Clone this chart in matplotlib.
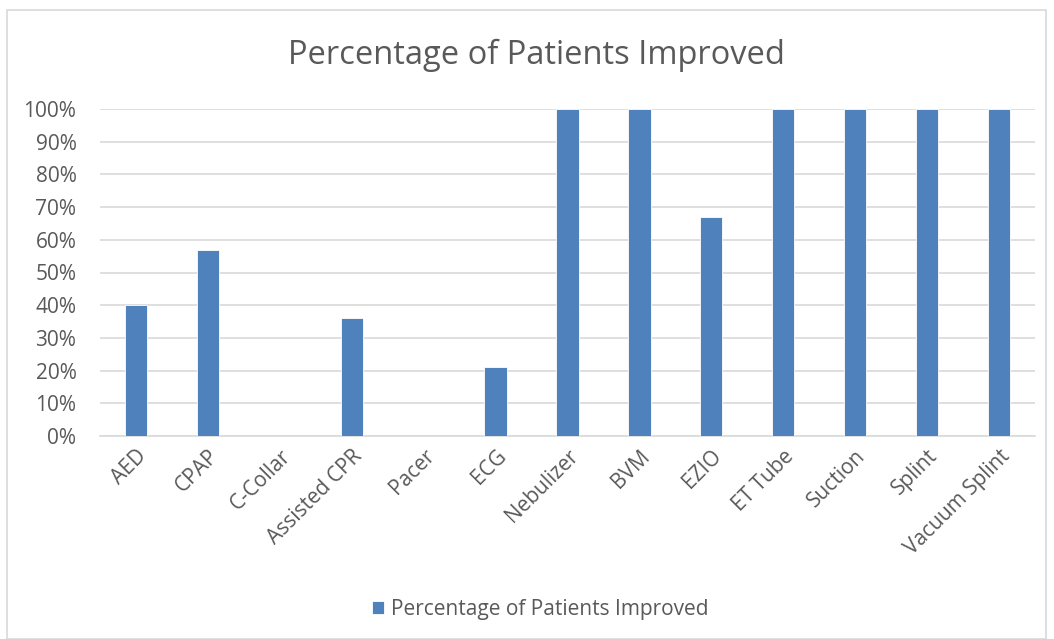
import matplotlib.pyplot as plt
from matplotlib.patches import Rectangle
from matplotlib.ticker import FuncFormatter

plt.rcParams["font.family"] = ["Open Sans", "DejaVu Sans"]

categories = ["AED", "CPAP", "C-Collar", "Assisted CPR", "Pacer", "ECG", "Nebulizer",
              "BVM", "EZIO", "ET Tube", "Suction", "Splint", "Vacuum Splint"]
improved_pct = [40, 57, 0, 36, 0, 21, 100, 100, 67, 100, 100, 100, 100]

BAR_COLOR = "#4F81BD"
TEXT_COLOR = "#595959"
GRID_COLOR = "#D9D9D9"

fig = plt.figure(figsize=(10.54, 6.39), dpi=100)
ax = fig.add_axes([100 / 1054, 1 - 436 / 639, 935 / 1054, 327 / 639])

x = range(len(categories))
ax.bar(x, improved_pct, width=0.31, color=BAR_COLOR, edgecolor="white",
       linewidth=0.6, zorder=3, label="Percentage of Patients Improved")

ax.set_xlim(-0.5, len(categories) - 0.5)
ax.set_ylim(0, 100)
ax.set_yticks(range(0, 101, 10))
ax.yaxis.set_major_formatter(FuncFormatter(lambda v, _: f"{v:.0f}%"))
ax.set_xticks(list(x))
ax.set_xticklabels(categories, rotation=45, ha="right", rotation_mode="anchor")

ax.grid(axis="y", color=GRID_COLOR, linewidth=1.2, zorder=0)
for side in ["top", "right", "left"]:
    ax.spines[side].set_visible(False)
ax.spines["bottom"].set_color(GRID_COLOR)
ax.spines["bottom"].set_linewidth(1.2)
ax.tick_params(axis="both", length=0, colors=TEXT_COLOR, labelsize=15)
ax.tick_params(axis="y", pad=17)
ax.tick_params(axis="x", pad=7)

fig.text(536 / 1054, 1 - 55 / 639, "Percentage of Patients Improved",
         ha="center", va="center", fontsize=23.5, color=TEXT_COLOR)

fig.legend(loc="center", bbox_to_anchor=(540 / 1054, 1 - 609 / 639), frameon=False,
           fontsize=15, labelcolor=TEXT_COLOR, handlelength=0.6, handleheight=0.6,
           handletextpad=0.3)

fig.patches.append(Rectangle((7 / 1054, 0), 1039 / 1054, 1 - 10 / 639,
                             transform=fig.transFigure, fill=False,
                             edgecolor=GRID_COLOR, linewidth=1.2))

fig.savefig("out.png", dpi=100, facecolor="white")
